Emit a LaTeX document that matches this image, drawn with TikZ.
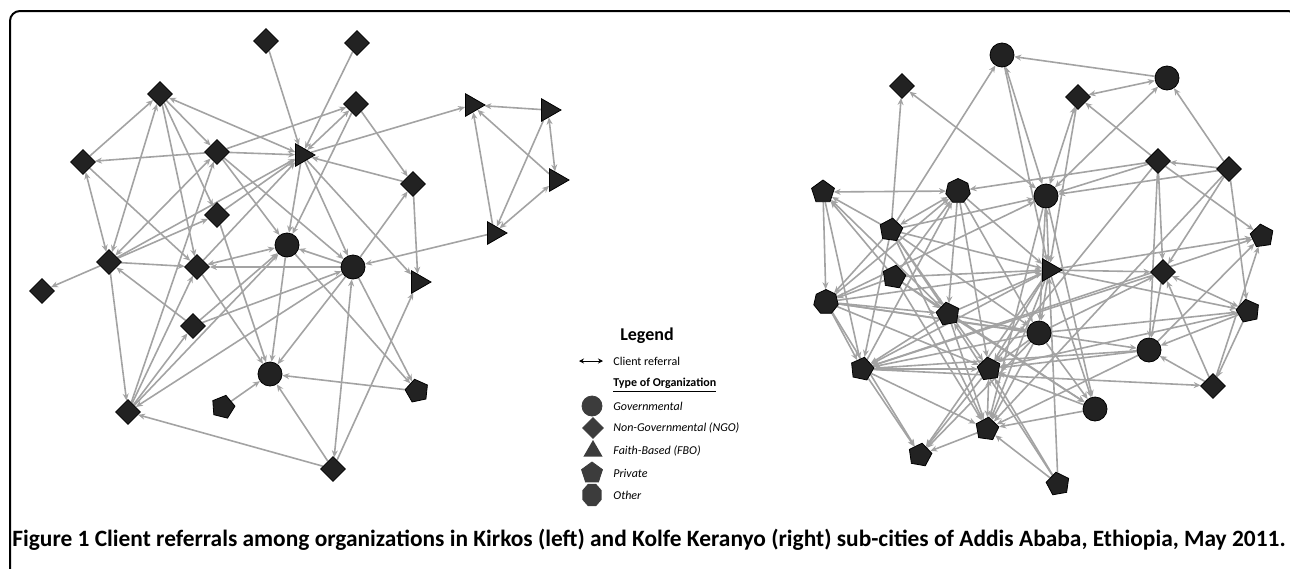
\documentclass[tikz,border=0pt]{standalone}
\usepackage{fontspec}
\setmainfont{Carlito}
\usepackage{tikz}
\usetikzlibrary{shapes.geometric,arrows.meta,backgrounds}

\definecolor{edgegray}{HTML}{A3A3A3}
\definecolor{nodefill}{HTML}{222222}
\definecolor{keyfill}{HTML}{3C3C3C}

\tikzset{
  gov/.style={circle,draw=black,fill=nodefill,inner sep=0pt,minimum size=12pt},
  ngo/.style={diamond,draw=black,fill=nodefill,inner sep=0pt,minimum size=12.5pt},
  fbo/.style={regular polygon,regular polygon sides=3,shape border rotate=-90,draw=black,fill=nodefill,inner sep=0pt,minimum size=13pt},
  pvt/.style={regular polygon,regular polygon sides=5,draw=black,fill=nodefill,inner sep=0pt,minimum size=12pt},
  oth/.style={regular polygon,regular polygon sides=7,draw=black,fill=nodefill,inner sep=0pt,minimum size=12.5pt},
  ref/.style={color=edgegray,line width=0.8pt},
  keytext/.style={anchor=west,inner sep=0pt,font=\fontsize{6}{7}\selectfont\itshape},
}

\begin{document}
\begin{tikzpicture}[x=0.5pt,y=-0.5pt,>={Stealth[length=3.5pt,width=3pt]}]
  \useasboundingbox (0,0) rectangle (1290,568);
  \clip (0,0) rectangle (1290,568);
  % frame
  \draw[line width=1pt,rounded corners=5pt] (10,620) -- (10,11) -- (1298,11) -- (1298,620);

  %Nodes (Kirkos)
  \node at (266,41) [ngo] (d1) {};
  \node at (357,43) [ngo] (d2) {};
  \node at (160,94) [ngo] (d3) {};
  \node at (356,104) [ngo] (d4) {};
  \node at (217,152) [ngo] (d5) {};
  \node at (302,155) [fbo] (t1) {};
  \node at (83,162) [ngo] (d6) {};
  \node at (413,184) [ngo] (d7) {};
  \node at (217,215) [ngo] (d8) {};
  \node at (287,245) [gov] (c1) {};
  \node at (109,262) [ngo] (d9) {};
  \node at (197,267) [ngo] (d10) {};
  \node at (353,267) [gov] (c2) {};
  \node at (418,282) [fbo] (t2) {};
  \node at (42,291) [ngo] (d11) {};
  \node at (193,326) [ngo] (d12) {};
  \node at (270,374) [gov] (c3) {};
  \node at (223,407) [pvt,shape border rotate=-14] (p1) {};
  \node at (417,391) [pvt,shape border rotate=12] (p2) {};
  \node at (128,412) [ngo] (d13) {};
  \node at (333,469) [ngo] (d14) {};
  \node at (472,105) [fbo] (t3) {};
  \node at (548,110) [fbo] (t4) {};
  \node at (556,180) [fbo] (t5) {};
  \node at (494,233) [fbo] (t6) {};

  %Nodes (Kolfe Keranyo)
  \node at (1002,55) [gov] (rc1) {};
  \node at (1167,78) [gov] (rc2) {};
  \node at (902,86) [ngo] (rd1) {};
  \node at (1078,97) [ngo] (rd2) {};
  \node at (1158,161) [ngo] (rd3) {};
  \node at (1229,169) [ngo] (rd4) {};
  \node at (823,192) [pvt] (rp1) {};
  \node at (958,191) [oth] (ro1) {};
  \node at (1046,196) [gov] (rc3) {};
  \node at (891,230) [pvt,shape border rotate=-8] (rp2) {};
  \node at (1262,236) [pvt,shape border rotate=8] (rp3) {};
  \node at (1049,270) [fbo] (rt) {};
  \node at (1163,272) [ngo] (rd5) {};
  \node at (894,277) [pvt,shape border rotate=-10] (rp4) {};
  \node at (826,302) [oth] (ro2) {};
  \node at (948,314) [pvt,shape border rotate=10] (rp5) {};
  \node at (1248,311) [pvt,shape border rotate=12] (rp6) {};
  \node at (1039,333) [gov] (rc4) {};
  \node at (1149,350) [gov] (rc5) {};
  \node at (862,369) [pvt,shape border rotate=-12] (rp7) {};
  \node at (989,369) [pvt,shape border rotate=8] (rp8) {};
  \node at (1213,386) [ngo] (rd6) {};
  \node at (1095,409) [gov] (rc6) {};
  \node at (987,429) [pvt,shape border rotate=-8] (rp9) {};
  \node at (920,455) [pvt,shape border rotate=-10] (rp10) {};
  \node at (1058,484) [pvt,shape border rotate=10] (rp11) {};

  %Lines (Kirkos)
  \begin{pgfonlayer}{background}
  \begin{scope}[ref]
  \draw[->] (d1) to (t1);
  \draw[->] (d2) to (t1);
  \draw[<->] (d3) to (t1);
  \draw[->] (d3) to (d5);
  \draw[->] (d3) to (d8);
  \draw[->] (d6) to (d3);
  \draw[<->] (d3) to (d9);
  \draw[->] (d3) to (d10);
  \draw[->] (d5) to (d6);
  \draw[->] (d5) to (t1);
  \draw[->] (d5) to (d4);
  \draw[->] (d5) to (c1);
  \draw[->] (d5) to (c2);
  \draw[<->] (d9) to (d5);
  \draw[->] (d13) to (d5);
  \draw[<->] (d4) to (t1);
  \draw[->] (d4) to (d7);
  \draw[->] (d4) to (c1);
  \draw[->] (t1) to (t3);
  \draw[->] (d7) to (t1);
  \draw[->] (t1) to (c1);
  \draw[->] (t1) to (c2);
  \draw[->] (t1) to (t2);
  \draw[->] (d8) to (t1);
  \draw[->] (d9) to (t1);
  \draw[->] (d10) to (t1);
  \draw[<->] (d6) to (d9);
  \draw[->] (d6) to (d10);
  \draw[->] (c2) to (d7);
  \draw[->] (d7) to (t2);
  \draw[->] (t4) to (t3);
  \draw[->] (t6) to (t3);
  \draw[->] (t5) to (t3);
  \draw[<->] (t4) to (t5);
  \draw[->] (t4) to (t6);
  \draw[<->] (t5) to (t6);
  \draw[->] (t6) to (c2);
  \draw[<->] (d10) to (c1);
  \draw[->] (c2) to (c1);
  \draw[->] (c1) to (c3);
  \draw[->] (d12) to (c1);
  \draw[->] (c1) to (p2);
  \draw[->] (c2) to (d10);
  \draw[->] (d12) to (c2);
  \draw[->] (c2) to (c3);
  \draw[->] (c2) to (d13);
  \draw[<->] (c2) to (d14);
  \draw[->] (c2) to (p2);
  \draw[->] (d9) to (d11);
  \draw[->] (d9) to (d10);
  \draw[->] (d12) to (d9);
  \draw[->] (d9) to (d13);
  \draw[->] (d9) to (d8);
  \draw[->] (d10) to (c3);
  \draw[->] (d13) to (d10);
  \draw[->] (d13) to (d12);
  \draw[->] (d13) to (c1);
  \draw[->] (d14) to (d13);
  \draw[->] (p1) to (c3);
  \draw[->] (p2) to (c3);
  \draw[->] (d14) to (c3);
  \draw[->] (d14) to (t2);
  \draw[->] (d8) to (c3);
  \end{scope}

  %Lines (Kolfe Keranyo)
  \begin{scope}[ref]
  \draw[->] (rc2) to (rc1);
  \draw[->] (rp2) to (rc1);
  \draw[<->] (rc1) to (rc3);
  \draw[->] (rc1) to (rt);
  \draw[<->] (rc2) to (rd2);
  \draw[->] (rd4) to (rc2);
  \draw[<->] (rc3) to (rc2);
  \draw[->] (rp2) to (rd1);
  \draw[<->] (rd1) to (rc3);
  \draw[->] (rd3) to (rd2);
  \draw[<->] (rd2) to (rc3);
  \draw[->] (rd2) to (rt);
  \draw[->] (rd4) to (rd3);
  \draw[->] (rd3) to (rc3);
  \draw[->] (rd3) to (ro1);
  \draw[->] (rd3) to (rp3);
  \draw[->] (rd3) to (rd5);
  \draw[->] (rd3) to (rc5);
  \draw[->] (rd3) to (rp8);
  \draw[->] (rd4) to (rc3);
  \draw[->] (rd4) to (rd5);
  \draw[->] (rd4) to (rp6);
  \draw[->] (rd4) to (rp9);
  \draw[<->] (rp1) to (ro1);
  \draw[->] (rp2) to (rp1);
  \draw[->] (rp1) to (ro2);
  \draw[->] (rp4) to (rp1);
  \draw[->] (rp5) to (rp1);
  \draw[->] (rp1) to (rp7);
  \draw[<->] (rp2) to (ro1);
  \draw[->] (ro1) to (rt);
  \draw[->] (ro1) to (rp5);
  \draw[->] (ro1) to (rp8);
  \draw[->] (rp4) to (ro1);
  \draw[->] (ro2) to (ro1);
  \draw[->] (rp7) to (ro1);
  \draw[->] (ro1) to (rc4);
  \draw[<->] (rc3) to (rt);
  \draw[->] (rc3) to (rc4);
  \draw[->] (rp2) to (rc3);
  \draw[->] (ro2) to (rc3);
  \draw[->] (rc3) to (rp9);
  \draw[->] (rc3) to (rc6);
  \draw[->] (rp2) to (rp5);
  \draw[->] (rp2) to (rt);
  \draw[->] (rp2) to (rp8);
  \draw[->] (rp2) to (rp7);
  \draw[->] (rp2) to (rp9);
  \draw[->] (rp2) to (ro2);
  \draw[->] (rp2) to (rc4);
  \draw[->] (rt) to (rp3);
  \draw[->] (rp7) to (rp3);
  \draw[->] (rd6) to (rp3);
  \draw[->] (rc5) to (rp3);
  \draw[->] (ro2) to (rt);
  \draw[->] (rp4) to (rt);
  \draw[->] (rp5) to (rt);
  \draw[->] (rt) to (rc4);
  \draw[->] (rt) to (rc6);
  \draw[->] (rt) to (rp9);
  \draw[->] (rt) to (rp8);
  \draw[->] (rt) to (rd5);
  \draw[->] (rt) to (rp6);
  \draw[->] (rt) to (rp7);
  \draw[->] (rt) to (rp10);
  \draw[->] (rd5) to (rc5);
  \draw[<->] (rd5) to (rp6);
  \draw[->] (rd5) to (rp7);
  \draw[->] (rd6) to (rd5);
  \draw[->] (rc4) to (rd5);
  \draw[->] (rp4) to (ro2);
  \draw[->] (rp4) to (rp9);
  \draw[->] (rp4) to (rc6);
  \draw[->] (rp4) to (rp5);
  \draw[->] (ro2) to (rp7);
  \draw[->] (ro2) to (rp10);
  \draw[->] (ro2) to (rc4);
  \draw[->] (ro2) to (rp5);
  \draw[->] (ro2) to (rp8);
  \draw[->] (ro2) to (rc5);
  \draw[->] (rp5) to (rp7);
  \draw[->] (rp5) to (rp9);
  \draw[->] (rp5) to (rc4);
  \draw[->] (rp5) to (rc6);
  \draw[->] (rp6) to (rc5);
  \draw[->] (rp6) to (rd6);
  \draw[->] (rp6) to (rp8);
  \draw[->] (rc4) to (rp6);
  \draw[->] (rc4) to (rp8);
  \draw[->] (rc4) to (rp9);
  \draw[->] (rc4) to (rc6);
  \draw[->] (rc4) to (rp7);
  \draw[->] (rc4) to (rp10);
  \draw[->] (rc5) to (rp8);
  \draw[->] (rc5) to (rp7);
  \draw[->] (rc5) to (rp9);
  \draw[->] (rd6) to (rc5);
  \draw[->] (rp7) to (rp10);
  \draw[->] (rp7) to (rp9);
  \draw[->] (rp7) to (rp8);
  \draw[->] (rp7) to (rd6);
  \draw[<->] (rp8) to (rp9);
  \draw[->] (rp8) to (rp10);
  \draw[->] (rc6) to (rp9);
  \draw[->] (rc6) to (rp8);
  \draw[->] (rp9) to (rp10);
  \draw[->] (rp11) to (rp9);
  \draw[->] (rp11) to (rp8);
  \draw[->] (rp11) to (rt);
  \draw[->] (rp11) to (rp5);
  \end{scope}
  \end{pgfonlayer}

  %Legend
  \node at (647,336) [font=\fontsize{9}{10}\selectfont\bfseries] (keytitle) {Legend};
  \coordinate (arrowa) at (579,361);
  \coordinate (arrowb) at (603,361);
  \draw[<->,>={Stealth[length=2.5pt,width=2.5pt]},line width=0.5pt] (arrowa) -- (arrowb);
  \node at (613,361) [keytext,font=\fontsize{6}{7}\selectfont] (keyref) {Client referral};
  \node at (613,385) [keytext,font=\fontsize{6}{7}\selectfont\bfseries] (keytype) {\underline{Type of Organization}};
  \node at (592,406) [gov,fill=keyfill,draw=keyfill,minimum size=10pt] (keygov) {};
  \node at (613,406) [keytext] (keygovtext) {Governmental};
  \node at (593,428) [ngo,fill=keyfill,draw=keyfill,minimum size=10.5pt] (keyngo) {};
  \node at (613,428) [keytext] (keyngotext) {Non-Governmental (NGO)};
  \node at (593,451) [regular polygon,regular polygon sides=3,fill=keyfill,inner sep=0pt,minimum size=11pt] (keyfbo) {};
  \node at (613,451) [keytext] (keyfbotext) {Faith-Based (FBO)};
  \node at (592,473) [pvt,fill=keyfill,draw=keyfill,minimum size=11pt] (keypvt) {};
  \node at (613,473) [keytext] (keypvttext) {Private};
  \node at (592,495) [regular polygon,regular polygon sides=8,fill=keyfill,inner sep=0pt,minimum size=10.5pt,yscale=1.15] (keyoth) {};
  \node at (613,495) [keytext] (keyothtext) {Other};

  %Caption
  \node at (12,540) [anchor=west,inner sep=0pt,font=\fontsize{11.7}{13}\selectfont\bfseries] (caption)
    {Figure 1 Client referrals among organizations in Kirkos (left) and Kolfe Keranyo (right) sub-cities of Addis Ababa, Ethiopia, May 2011.};
\end{tikzpicture}
\end{document}
